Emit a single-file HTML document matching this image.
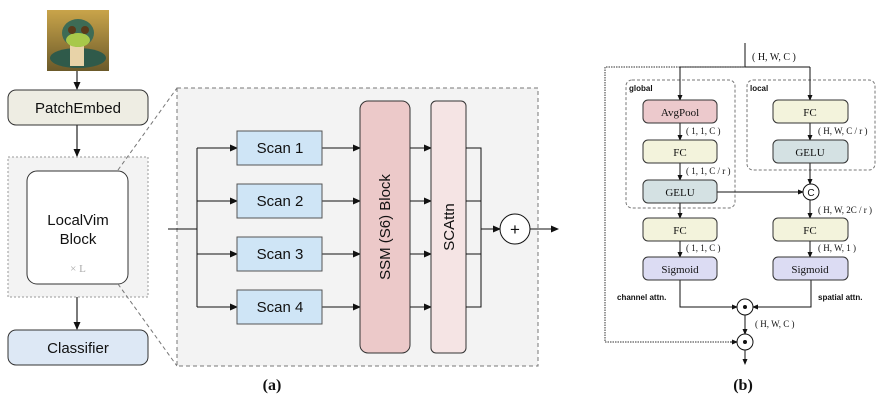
<!DOCTYPE html>
<html><head><meta charset="utf-8"><style>
body{margin:0;background:#fff;}
svg{display:block}
.s{font-family:"Liberation Sans",sans-serif;fill:#111}
.r{font-family:"Liberation Serif",serif;fill:#111}
</style></head><body>
<svg width="888" height="418" viewBox="0 0 888 418" xmlns="http://www.w3.org/2000/svg">
<defs>
<marker id="a" markerWidth="8" markerHeight="8" refX="7" refY="4" orient="auto" markerUnits="userSpaceOnUse"><path d="M0,0.5 L8,4 L0,7.5z" fill="#111"/></marker>
<marker id="b" markerWidth="6" markerHeight="6" refX="5" refY="3" orient="auto" markerUnits="userSpaceOnUse"><path d="M0,0.5 L6,3 L0,5.5z" fill="#111"/></marker>
<linearGradient id="bg" x1="0" y1="0" x2="0" y2="1"><stop offset="0" stop-color="#c9a44a"/><stop offset="1" stop-color="#6b5a2a"/></linearGradient>
</defs>
<!-- snake image -->
<rect x="47" y="10" width="62" height="61" fill="url(#bg)"/>
<ellipse cx="78" cy="58" rx="28" ry="10" fill="#2f5a4a"/>
<rect x="70" y="40" width="14" height="26" fill="#e8d3a8"/>
<ellipse cx="78" cy="33" rx="16" ry="14" fill="#3d6b55"/>
<ellipse cx="78" cy="40" rx="12" ry="7" fill="#a8c84a"/>
<circle cx="72" cy="30" r="4" fill="#5a3a1a"/><circle cx="85" cy="30" r="4" fill="#5a3a1a"/>
<!-- left column -->
<line x1="77" y1="71" x2="77" y2="89" stroke="#333" stroke-width="1.3" marker-end="url(#a)"/>
<rect x="8" y="90" width="140" height="35" rx="8" fill="#eeede3" stroke="#333"/>
<text class="s" x="78" y="113" font-size="15" text-anchor="middle">PatchEmbed</text>
<line x1="77" y1="125" x2="77" y2="156" stroke="#333" stroke-width="1.3" marker-end="url(#a)"/>
<rect x="8" y="157" width="140" height="140" fill="#f3f3f3" stroke="#999" stroke-dasharray="2,2"/>
<rect x="27" y="171" width="101" height="113" rx="10" fill="#fff" stroke="#333"/>
<text class="s" x="78" y="225" font-size="15" text-anchor="middle">LocalVim</text>
<text class="s" x="78" y="244" font-size="15" text-anchor="middle">Block</text>
<text class="r" x="78" y="272" font-size="11" text-anchor="middle" style="fill:#aaa">× L</text>
<line x1="77" y1="297" x2="77" y2="329" stroke="#333" stroke-width="1.3" marker-end="url(#a)"/>
<rect x="8" y="330" width="140" height="35" rx="8" fill="#dde8f5" stroke="#333"/>
<text class="s" x="78" y="353" font-size="15" text-anchor="middle">Classifier</text>
<!-- zoom lines -->
<line x1="118" y1="170" x2="177" y2="88" stroke="#777" stroke-dasharray="4,3"/>
<line x1="118" y1="284" x2="177" y2="366" stroke="#777" stroke-dasharray="4,3"/>
<rect x="177" y="88" width="361" height="278" fill="#f3f3f3" stroke="#777" stroke-dasharray="4,3"/>
<!-- scans -->
<line x1="168" y1="229" x2="197" y2="229" stroke="#111"/>
<line x1="197" y1="148" x2="197" y2="307" stroke="#111"/>
<g stroke="#111" marker-end="url(#a)">
<line x1="197" y1="148" x2="237" y2="148"/><line x1="197" y1="201" x2="237" y2="201"/>
<line x1="197" y1="254" x2="237" y2="254"/><line x1="197" y1="307" x2="237" y2="307"/>
<line x1="322" y1="148" x2="360" y2="148"/><line x1="322" y1="201" x2="360" y2="201"/>
<line x1="322" y1="254" x2="360" y2="254"/><line x1="322" y1="307" x2="360" y2="307"/>
<line x1="410" y1="148" x2="431" y2="148"/><line x1="410" y1="201" x2="431" y2="201"/>
<line x1="410" y1="254" x2="431" y2="254"/><line x1="410" y1="307" x2="431" y2="307"/>
</g>
<g fill="#cfe5f6" stroke="#555">
<rect x="237" y="131" width="85" height="34"/><rect x="237" y="184" width="85" height="34"/>
<rect x="237" y="237" width="85" height="34"/><rect x="237" y="290" width="85" height="34"/>
</g>
<g class="s" font-size="15" text-anchor="middle">
<text x="280" y="153">Scan 1</text><text x="280" y="206">Scan 2</text>
<text x="280" y="259">Scan 3</text><text x="280" y="312">Scan 4</text>
</g>
<rect x="360" y="101" width="50" height="252" rx="8" fill="#ecc9c9" stroke="#333"/>
<text class="s" font-size="15" text-anchor="middle" transform="translate(390,227) rotate(-90)">SSM (S6) Block</text>
<rect x="431" y="101" width="35" height="252" rx="5" fill="#f5e4e4" stroke="#333"/>
<text class="s" font-size="15" text-anchor="middle" transform="translate(454,227) rotate(-90)">SCAttn</text>
<g stroke="#111" fill="none">
<path d="M466,148H481V307H466M466,201H481M466,254H481"/>
</g>
<line x1="481" y1="229" x2="500" y2="229" stroke="#111" marker-end="url(#a)"/>
<circle cx="515" cy="229" r="15" fill="#fff" stroke="#111"/>
<text class="s" x="515" y="235" font-size="17" text-anchor="middle">+</text>
<line x1="530" y1="229" x2="558" y2="229" stroke="#111" marker-end="url(#a)"/>
<text class="r" x="272" y="390" font-size="16" font-weight="bold" text-anchor="middle">(a)</text>
<!-- panel b -->
<g stroke="#111" fill="none">
<path d="M745,43V67M680,67H810"/>
</g>
<path d="M745,67H605V342H737" stroke="#333" fill="none" stroke-dasharray="1.5,1"/>
<text class="r" x="752" y="60" font-size="10">( H, W, C )</text>
<rect x="626" y="80" width="109" height="128" rx="6" fill="none" stroke="#777" stroke-dasharray="3,2"/>
<rect x="747" y="80" width="128" height="90" rx="6" fill="none" stroke="#777" stroke-dasharray="3,2"/>
<text class="s" x="629" y="91" font-size="8" font-weight="bold">global</text>
<text class="s" x="750" y="91" font-size="8" font-weight="bold">local</text>
<g stroke="#111" marker-end="url(#b)">
<line x1="680" y1="67" x2="680" y2="100"/><line x1="810" y1="67" x2="810" y2="100"/>
<line x1="680" y1="123" x2="680" y2="140"/><line x1="680" y1="163" x2="680" y2="180"/>
<line x1="680" y1="203" x2="680" y2="218"/><line x1="680" y1="241" x2="680" y2="257"/>
<line x1="810" y1="123" x2="810" y2="140"/><line x1="810" y1="163" x2="810" y2="184"/>
<line x1="810" y1="200" x2="810" y2="218"/><line x1="810" y1="241" x2="810" y2="257"/>
<line x1="717" y1="192" x2="803" y2="192"/>
<line x1="745" y1="315" x2="745" y2="334"/><line x1="745" y1="350" x2="745" y2="364"/>
</g>
<path d="M680,280V307H737M811,280V307H753" stroke="#111" fill="none"/>
<g stroke="#111" marker-end="url(#b)"><line x1="730" y1="307" x2="737" y2="307"/><line x1="760" y1="307" x2="753" y2="307"/><line x1="730" y1="342" x2="737" y2="342"/></g>
<g stroke="#333">
<rect x="643" y="100" width="74" height="23" rx="5" fill="#ecc9cc"/>
<rect x="643" y="140" width="74" height="23" rx="5" fill="#f3f3dc"/>
<rect x="643" y="180" width="74" height="23" rx="5" fill="#d4e1e3"/>
<rect x="643" y="218" width="74" height="23" rx="5" fill="#f3f3dc"/>
<rect x="643" y="257" width="74" height="23" rx="5" fill="#dcdcf3"/>
<rect x="773" y="100" width="75" height="23" rx="5" fill="#f3f3dc"/>
<rect x="773" y="140" width="75" height="23" rx="5" fill="#d4e1e3"/>
<rect x="773" y="218" width="75" height="23" rx="5" fill="#f3f3dc"/>
<rect x="773" y="257" width="75" height="23" rx="5" fill="#dcdcf3"/>
</g>
<g class="r" font-size="11" text-anchor="middle">
<text x="680" y="116">AvgPool</text><text x="680" y="156">FC</text><text x="680" y="196">GELU</text>
<text x="680" y="234">FC</text><text x="680" y="273">Sigmoid</text>
<text x="810" y="116">FC</text><text x="810" y="156">GELU</text>
<text x="810" y="234">FC</text><text x="810" y="273">Sigmoid</text>
</g>
<g class="r" font-size="9">
<text x="686" y="134">( 1, 1, C )</text><text x="686" y="174">( 1, 1, C / r )</text>
<text x="686" y="251">( 1, 1, C )</text>
<text x="818" y="134">( H, W, C / r )</text><text x="818" y="213">( H, W, 2C / r )</text>
<text x="818" y="251">( H, W, 1 )</text>
<text x="755" y="327">( H, W, C )</text>
</g>
<text class="s" x="617" y="300" font-size="8" font-weight="bold">channel attn.</text>
<text class="s" x="818" y="300" font-size="8" font-weight="bold">spatial attn.</text>
<circle cx="811" cy="192" r="8" fill="#fff" stroke="#111"/>
<text class="s" x="811" y="196" font-size="10" text-anchor="middle">C</text>
<circle cx="745" cy="307" r="8" fill="#fff" stroke="#111"/><circle cx="745" cy="307" r="2" fill="#111"/>
<circle cx="745" cy="342" r="8" fill="#fff" stroke="#111"/><circle cx="745" cy="342" r="2" fill="#111"/>
<text class="r" x="743" y="390" font-size="16" font-weight="bold" text-anchor="middle">(b)</text>
</svg>
</body></html>
